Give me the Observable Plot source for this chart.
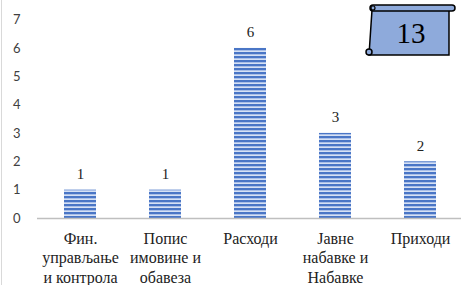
<!DOCTYPE html>
<html>
<head>
<meta charset="utf-8">
<script src="https://cdn.jsdelivr.net/npm/d3@7"></script>
<script src="https://cdn.jsdelivr.net/npm/@observablehq/plot@0.6"></script>
<style>
  html, body { margin: 0; padding: 0; background: #fff; }
  #wrap { position: relative; width: 461px; height: 285px; overflow: hidden; }
  #wrap .border { position: absolute; left: 1px; top: 0; width: 0; height: 285px; border-left: 1px solid #d9d9d9; }
  #overlay { position: absolute; left: 0; top: 0; pointer-events: none; }
</style>
</head>
<body>
<div id="wrap"><div class="border"></div></div>
<script>
const categories = ["Фин.\nуправљање\nи контрола", "Попис\nимовине и\nобавеза", "Расходи", "Јавне\nнабавке и\nНабавке", "Приходи"];
const values = [1, 1, 6, 3, 2];
const yTicks = [0, 1, 2, 3, 4, 5, 6, 7];
const badgeText = "13";

const data = categories.map((c, i) => ({cat: c, value: values[i]}));

const chart = Plot.plot({
  width: 461,
  height: 285,
  marginLeft: 37,
  marginRight: 0,
  marginTop: 0,
  marginBottom: 0,
  style: {background: "transparent", overflow: "visible"},
  x: {domain: categories, range: [37, 464], paddingInner: 0.62, paddingOuter: 0.31, axis: null},
  y: {domain: [0, 7], range: [218, 19.5], axis: null},
  marks: [
    Plot.axisY(yTicks, {label: null, tickSize: 0, tickPadding: 17, fontSize: 13, fontFamily: "Lato, 'Open Sans', sans-serif", fill: "#404040", anchor: "left"}),
    Plot.barY(data, {x: "cat", y: "value", fill: "url(#stripes)"}),
    Plot.ruleY([0], {stroke: "#bfbfbf", strokeWidth: 1.5}),
    Plot.text(data, {x: "cat", y: "value", text: d => String(d.value), dy: -16, fontSize: 15, fontFamily: "'Liberation Serif', 'Times New Roman', serif", fill: "#222"}),
    Plot.text(data, {x: "cat", y: () => 0, text: "cat", dy: 12, lineAnchor: "top", lineHeight: 1.2, fontSize: 16, fontFamily: "'Liberation Serif', 'Times New Roman', serif", fill: "#222"})
  ]
});

const svg = d3.select(chart);
const defs = svg.insert("defs", ":first-child");
const pat = defs.append("pattern").attr("id", "stripes").attr("patternUnits", "userSpaceOnUse").attr("width", 8).attr("height", 4);
pat.append("rect").attr("width", 8).attr("height", 4).attr("fill", "#a9bfe8");
pat.append("rect").attr("y", 0).attr("width", 8).attr("height", 2).attr("fill", "#4a76c6");
pat.append("rect").attr("y", 3).attr("width", 8).attr("height", 1).attr("fill", "#d6e1f4");

document.getElementById("wrap").appendChild(chart);

// decorative scroll badge
const ov = d3.select("#wrap").append("svg").attr("id", "overlay").attr("width", 461).attr("height", 285);
ov.append("path").attr("d", "M372,10 L449,10 L449,55 L369,55 Z").attr("fill", "#8eaadb").attr("stroke", "#000").attr("stroke-width", 1.5);
ov.append("rect").attr("x", 370).attr("y", 5).attr("width", 85).attr("height", 6).attr("rx", 3).attr("fill", "#8eaadb").attr("stroke", "#000").attr("stroke-width", 1.5);
ov.append("circle").attr("cx", 373).attr("cy", 8).attr("r", 2).attr("fill", "#8eaadb").attr("stroke", "#000").attr("stroke-width", 1.2);
ov.append("circle").attr("cx", 369).attr("cy", 52).attr("r", 3).attr("fill", "#8eaadb").attr("stroke", "#000").attr("stroke-width", 1.5);
ov.append("text").attr("x", 411).attr("y", 33).attr("text-anchor", "middle").attr("dominant-baseline", "central")
  .attr("font-family", "'Liberation Serif', 'Times New Roman', serif").attr("font-size", 29).attr("fill", "#000").text(badgeText);
</script>
</body>
</html>
